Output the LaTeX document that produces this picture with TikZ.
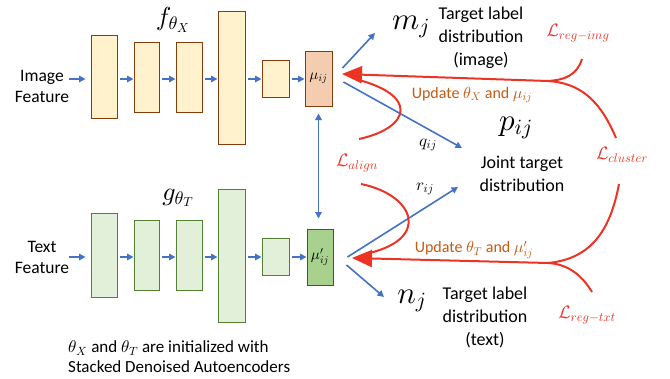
\documentclass[tikz,border=0pt]{standalone}
\DeclareFontShape{OML}{cmm}{m}{it}{<->cmmi10}{}
\DeclareFontShape{OMS}{cmsy}{m}{n}{<->cmsy10}{}
\DeclareFontShape{OT1}{cmr}{m}{n}{<->cmr10}{}
\usepackage{fontspec}
\setmainfont{Carlito}
\usetikzlibrary{arrows.meta}
\definecolor{fblue}{RGB}{68,114,196}
\definecolor{fred}{RGB}{236,51,36}
\definecolor{forange}{RGB}{197,90,17}
\definecolor{yfill}{RGB}{255,242,204}
\definecolor{ybord}{RGB}{132,60,12}
\definecolor{mfill}{RGB}{244,204,176}
\definecolor{gfill}{RGB}{226,240,217}
\definecolor{gbord}{RGB}{84,130,53}
\definecolor{gmfill}{RGB}{169,209,142}
\tikzset{
  ybox/.style={draw=ybord, fill=yfill, line width=1pt, inner sep=0pt},
  gbox/.style={draw=gbord, fill=gfill, line width=1pt, inner sep=0pt},
  barrow/.style={draw=fblue, line width=1.6pt, -{Triangle[length=6.5pt,width=6.5pt]}},
  rline/.style={draw=fred, line width=2pt},
  rarrow/.style={draw=fred, line width=2pt, -{Triangle[length=20pt,width=17pt]}},
  lbl/.style={font=\fontsize{17.5}{21}\selectfont, align=center, inner sep=0pt},
  tgt/.style={font=\fontsize{18}{23}\selectfont, align=center, inner sep=0pt},
  loss/.style={text=fred, font=\fontsize{18}{20}\selectfont, inner sep=0pt},
  upd/.style={text=forange, font=\fontsize{16}{18}\selectfont, inner sep=0pt},
  bigm/.style={font=\fontsize{31}{33}\selectfont, inner sep=0pt},
  mulbl/.style={font=\fontsize{15}{17}\selectfont},
}
\begin{document}
\begin{tikzpicture}[x=1pt,y=-1pt]
\useasboundingbox (0,0) rectangle (670,378);
% top encoder
\node[lbl] (imgf) at (42,86) {Image\\Feature};
\node[ybox, minimum width=26pt, minimum height=83pt] (t1) at (104,77) {};
\node[ybox, minimum width=25pt, minimum height=70pt] (t2) at (146.5,77) {};
\node[ybox, minimum width=26pt, minimum height=70pt] (t3) at (189,77) {};
\node[ybox, minimum width=27pt, minimum height=133pt] (t4) at (231.5,77.5) {};
\node[ybox, minimum width=27pt, minimum height=37pt] (t5) at (275.5,78.5) {};
\node[draw=ybord, fill=mfill, line width=1pt, inner sep=0pt, minimum width=27pt, minimum height=55pt, mulbl] (tm) at (318.5,78.5) {$\mu_{ij}$};
\node[font=\fontsize{26}{28}\selectfont, inner sep=0pt] (fx) at (173,20) {$f_{\theta_X}$};
% bottom encoder
\node[lbl] (txtf) at (42,257) {Text\\Feature};
\node[gbox, minimum width=26pt, minimum height=84pt] (b1) at (104,255) {};
\node[gbox, minimum width=25pt, minimum height=70pt] (b2) at (146.5,255) {};
\node[gbox, minimum width=26pt, minimum height=70pt] (b3) at (189,255) {};
\node[gbox, minimum width=27pt, minimum height=133pt] (b4) at (231.5,255.5) {};
\node[gbox, minimum width=27pt, minimum height=37pt] (b5) at (275.5,256.5) {};
\node[draw=ybord, fill=gmfill, line width=1pt, inner sep=0pt, minimum width=26pt, minimum height=56pt, mulbl] (bm) at (320,257) {$\mu'_{ij}$};
\node[font=\fontsize{26}{28}\selectfont, inner sep=0pt] (gt) at (178,198) {$g_{\theta_T}$};
\node[lbl, font=\fontsize{17}{20}\selectfont, align=left, anchor=west] (note) at (68,357) {$\theta_X$ and $\theta_T$ are initialized with\\Stacked Denoised Autoencoders};
% encoder arrows
\draw[barrow, shorten >=5pt] (imgf.east |- 0,79) -- (t1.west |- 0,79);
\draw[barrow, shorten <=2pt] (t1.east |- 0,79) -- (t2.west |- 0,79);
\draw[barrow, shorten <=2pt] (t2.east |- 0,79) -- (t3.west |- 0,79);
\draw[barrow, shorten <=2pt] (t3.east |- 0,79) -- (t4.west |- 0,79);
\draw[barrow, shorten <=2pt] (t4.east |- 0,79) -- (t5.west |- 0,79);
\draw[barrow, shorten <=2pt] (t5.east |- 0,79) -- (tm.west |- 0,79);
\draw[barrow, shorten >=5pt] (txtf.east |- 0,257) -- (b1.west |- 0,257);
\draw[barrow, shorten <=2pt] (b1.east |- 0,257) -- (b2.west |- 0,257);
\draw[barrow, shorten <=2pt] (b2.east |- 0,257) -- (b3.west |- 0,257);
\draw[barrow, shorten <=2pt] (b3.east |- 0,257) -- (b4.west |- 0,257);
\draw[barrow, shorten <=2pt] (b4.east |- 0,257) -- (b5.west |- 0,257);
\draw[barrow, shorten <=2pt] (b5.east |- 0,257) -- (bm.west |- 0,257);
\draw[barrow, {Triangle[length=6.5pt,width=6.5pt]}-{Triangle[length=6.5pt,width=6.5pt]}, shorten <=7pt, shorten >=10pt] (tm.south) -- (tm.south |- bm.north);
% targets
\node[bigm] (mj) at (411,27) {$m_j$};
\node[tgt] (mtxt) at (481,38) {Target label\\distribution\\(image)};
\node[bigm] (pij) at (516,128) {$p_{ij}$};
\node[tgt] (ptxt) at (522,174) {Joint target\\distribution};
\node[bigm] (nj) at (412,301) {$n_j$};
\node[tgt] (ntxt) at (485,317) {Target label\\distribution\\(text)};
\node[font=\fontsize{17}{19}\selectfont, inner sep=0pt] (q) at (428,145) {$q_{ij}$};
\node[font=\fontsize{17}{19}\selectfont, inner sep=0pt] (r) at (425,189) {$r_{ij}$};
% blue output arrows
\coordinate (mtip) at (375,33);
\coordinate (ptip) at (462,148);
\coordinate (rtip) at (458,187);
\coordinate (ntip) at (384,297);
\draw[barrow] ([xshift=10pt,yshift=10.5pt]tm.east) -- (mtip);
\draw[barrow] ([xshift=11pt,yshift=-3.5pt]tm.east) -- (ptip);
\draw[barrow] ([xshift=14pt]bm.east) -- (rtip);
\draw[barrow] ([xshift=13pt,yshift=-8pt]bm.east) -- (ntip);
% losses
\node[loss] (lri) at (578,33) {$\mathcal{L}_{reg-img}$};
\node[loss] (lcl) at (622,155) {$\mathcal{L}_{cluster}$};
\node[loss] (lrt) at (587,315) {$\mathcal{L}_{reg-txt}$};
\node[loss] (lal) at (357,163) {$\mathcal{L}_{align}$};
\node[upd] (u1) at (472,95) {Update $\theta_X$ and $\mu_{ij}$};
\node[upd] (u2) at (474,250) {Update $\theta_T$ and $\mu'_{ij}$};
% red gradient arrows
\coordinate (tipA) at (342,74);
\coordinate (splitA) at (548,81);
\coordinate (tipB) at (352,258);
\coordinate (splitB) at (548,263);
\coordinate (riS) at (582,59);
\coordinate (clS) at (616,138);
\coordinate (clT) at (619,184);
\coordinate (rtS) at (592,292);
\coordinate (alA) at (359,139);
\coordinate (alB) at (361,184);
\draw[rline] (riS) .. controls (577,75) and (565,80) .. (splitA);
\draw[rline] (clS) .. controls (600,100) and (580,83) .. (splitA);
\draw[rline] (clT) .. controls (610,232) and (590,259) .. (splitB);
\draw[rline] (rtS) .. controls (580,272) and (565,264) .. (splitB);
\draw[rline] (alA) .. controls (410,128) and (420,95) .. (355,79);
\draw[rline] (alB) .. controls (415,195) and (432,240) .. (365,254);
\draw[rarrow] (splitA) -- (tipA);
\draw[rarrow] (splitB) -- (tipB);
\end{tikzpicture}
\end{document}
